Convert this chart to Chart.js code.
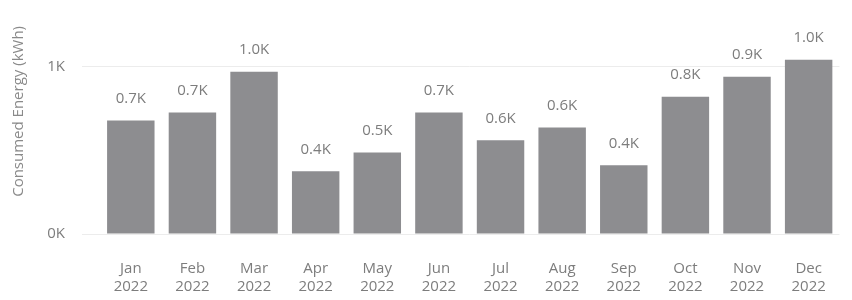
<!DOCTYPE html>
<html>
<head>
<meta charset="utf-8">
<script src="https://cdn.jsdelivr.net/npm/chart.js@4.4.1/dist/chart.umd.min.js"></script>
<style>
  html, body { margin: 0; padding: 0; background: #fff; }
  .chart-container { width: 852px; height: 300px; position: relative; }
</style>
</head>
<body>
<div class="chart-container"><canvas id="myChart"></canvas></div>
<script>
// data
var months = ['Jan', 'Feb', 'Mar', 'Apr', 'May', 'Jun', 'Jul', 'Aug', 'Sep', 'Oct', 'Nov', 'Dec'];
var year = '2022';
var energy = [679, 726, 970, 375, 488, 726, 560, 637, 411, 821, 940, 1042];
var yTicks = [0, 1000];

var textColor = '#7d7d7d';
var fontFamily = '"Open Sans", "Noto Sans", sans-serif';

// labels above bars (0.7K etc.)
var barLabels = {
  id: 'barLabels',
  afterDatasetsDraw: function (chart) {
    var ctx = chart.ctx;
    var meta = chart.getDatasetMeta(0);
    ctx.save();
    ctx.font = '15px ' + fontFamily;
    ctx.fillStyle = textColor;
    ctx.textAlign = 'center';
    ctx.textBaseline = 'middle';
    meta.data.forEach(function (bar, i) {
      var v = chart.data.datasets[0].data[i];
      ctx.fillText((v / 1000).toFixed(1) + 'K', bar.x, bar.y - 22);
    });
    ctx.restore();
  }
};

var ctx = document.getElementById('myChart').getContext('2d');
var myChart = new Chart(ctx, {
  type: 'bar',
  data: {
    labels: months.map(function (m) { return [m, year]; }),
    datasets: [{
      label: 'Consumed Energy (kWh)',
      data: energy,
      backgroundColor: '#8d8d90',
      borderWidth: 0,
      categoryPercentage: 1,
      barPercentage: 0.77
    }]
  },
  options: {
    responsive: true,
    maintainAspectRatio: false,
    animation: false,
    layout: { padding: { top: 10, right: 5, left: 0, bottom: 0 } },
    plugins: {
      legend: { display: false },
      tooltip: { enabled: false }
    },
    scales: {
      x: {
        grid: { display: false, drawTicks: false },
        border: { display: false },
        ticks: {
          color: textColor,
          padding: 26,
          maxRotation: 0,
          autoSkip: false,
          font: { family: fontFamily, size: 15, lineHeight: 1.2 }
        },
        afterFit: function (scale) { scale.height = 66; }
      },
      y: {
        min: 0,
        max: 1244,
        afterBuildTicks: function (scale) {
          scale.ticks = yTicks.map(function (v) { return { value: v }; });
        },
        grid: { color: '#ececec', tickLength: 18, drawTicks: true },
        border: { display: false },
        ticks: {
          color: textColor,
          padding: 17,
          font: { family: fontFamily, size: 15 },
          callback: function (v) { return (v / 1000) + 'K'; }
        },
        title: {
          display: true,
          text: 'Consumed Energy (kWh)',
          align: 'end',
          color: '#8a8a8a',
          font: { family: fontFamily, size: 15 },
          padding: { top: 10, bottom: 0 }
        },
        afterFit: function (scale) { scale.width = 100; }
      }
    }
  },
  plugins: [barLabels]
});
</script>
</body>
</html>
